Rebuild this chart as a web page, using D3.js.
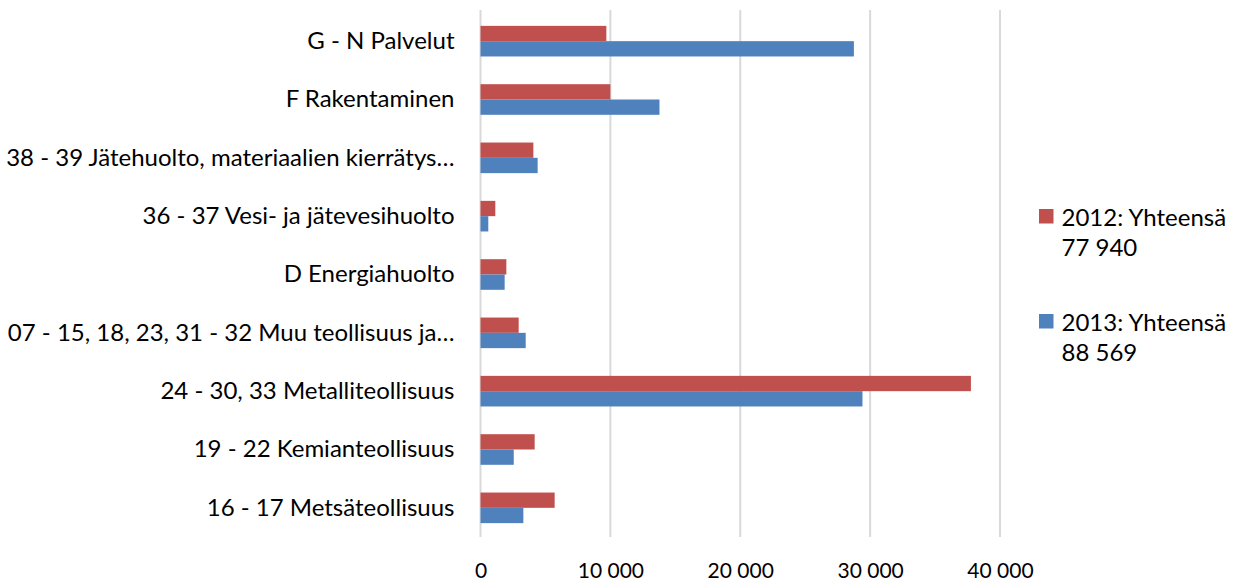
<!DOCTYPE html>
<html>
<head>
<meta charset="utf-8">
<script src="https://cdn.jsdelivr.net/npm/d3@7"></script>
<style>
  body { margin: 0; background: #fff; }
  svg text { font-family: Lato, "Open Sans", sans-serif; fill: #000; }
</style>
</head>
<body>
<div id="chart"></div>
<script>
// categories top to bottom
var categories = [
    "G - N Palvelut",
    "F Rakentaminen",
    "38 - 39 Jätehuolto, materiaalien kierrätys…",
    "36 - 37 Vesi- ja jätevesihuolto",
    "D Energiahuolto",
    "07 - 15, 18, 23, 31 - 32 Muu teollisuus ja…",
    "24 - 30, 33 Metalliteollisuus",
    "19 - 22 Kemianteollisuus",
    "16 - 17 Metsäteollisuus"
];
var values2012 = [9690, 10000, 4070, 1140, 1990, 2940, 37760, 4170, 5710];
var values2013 = [28750, 13780, 4400, 600, 1860, 3480, 29410, 2560, 3300];
var seriesNames = ["2012", "2013"];
var legendLines = [["2012: Yhteensä", "77 940"], ["2013: Yhteensä", "88 569"]];
var xTicks = [0, 10000, 20000, 30000, 40000];

var colors = {"2012": "#c0504d", "2013": "#4f81bd"};

var W = 1237, H = 583;
var plot = {left: 480.5, right: 1000, top: 12, bottom: 537};

var svg = d3.select("#chart").append("svg")
    .attr("width", W)
    .attr("height", H);

var x = d3.scaleLinear().domain([0, 40000]).range([plot.left, plot.right]);
var y = d3.scaleBand().domain(categories).range([plot.top, plot.bottom]);
var inner = d3.scaleBand().domain(seriesNames)
    .range([y.bandwidth() / 2 - 15.3, y.bandwidth() / 2 + 15.3]);

// gridlines
svg.append("g").selectAll("line")
    .data(xTicks)
    .enter().append("line")
    .attr("x1", function(d) { return x(d); })
    .attr("x2", function(d) { return x(d); })
    .attr("y1", plot.top - 2)
    .attr("y2", plot.bottom)
    .attr("stroke", "#d9d9d9")
    .attr("stroke-width", 2);

// bars
var rows = categories.map(function(c, i) {
    return {cat: c, vals: [{s: "2012", v: values2012[i]}, {s: "2013", v: values2013[i]}]};
});
var groups = svg.append("g").selectAll("g")
    .data(rows)
    .enter().append("g")
    .attr("transform", function(d) { return "translate(0," + y(d.cat) + ")"; });
groups.selectAll("rect")
    .data(function(d) { return d.vals; })
    .enter().append("rect")
    .attr("x", x(0))
    .attr("y", function(d) { return inner(d.s); })
    .attr("width", function(d) { return x(d.v) - x(0); })
    .attr("height", inner.bandwidth())
    .attr("fill", function(d) { return colors[d.s]; });

// category labels
var yAxis = d3.axisLeft(y).tickSize(0).tickPadding(26);
svg.append("g")
    .attr("transform", "translate(" + plot.left + ",0)")
    .call(yAxis)
    .call(function(g) { g.select(".domain").remove(); })
    .selectAll("text")
    .style("font-size", "24px")
    .style("font-family", "Lato, 'Open Sans', sans-serif");

// x tick labels
var xAxis = d3.axisBottom(x).tickValues(xTicks).tickSize(0).tickPadding(0)
    .tickFormat(function(d) { return d3.format(",")(d).replace(/,/g, " "); });
svg.append("g")
    .attr("transform", "translate(0,563)")
    .call(xAxis)
    .call(function(g) { g.select(".domain").remove(); })
    .selectAll("text")
    .style("font-size", "21px")
    .style("font-family", "Lato, 'Open Sans', sans-serif");

// legend
var legend = svg.append("g").selectAll("g")
    .data(seriesNames)
    .enter().append("g")
    .attr("transform", function(d, i) { return "translate(1039," + (209 + i * 105) + ")"; });
legend.append("rect")
    .attr("width", 14.5)
    .attr("height", 14.5)
    .attr("fill", function(d) { return colors[d]; });
legend.each(function(d, i) {
    var g = d3.select(this);
    legendLines[i].forEach(function(t, j) {
        g.append("text")
            .attr("x", 22.5)
            .attr("y", 17 + j * 30)
            .style("font-size", "24px")
            .text(t);
    });
});
</script>
</body>
</html>
